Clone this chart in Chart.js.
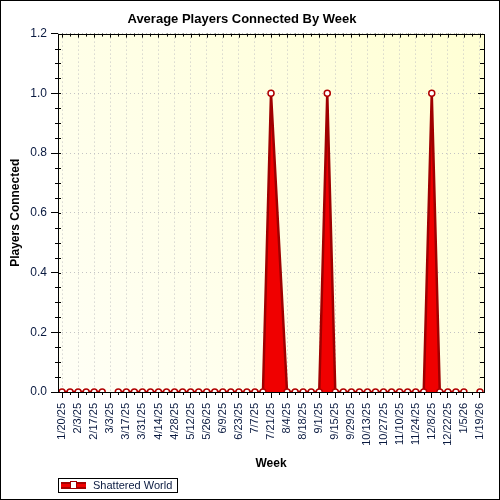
<!DOCTYPE html>
<html>
<head>
<meta charset="utf-8">
<script src="https://cdn.jsdelivr.net/npm/chart.js@4.4.1/dist/chart.umd.min.js"></script>
<style>
    html, body { margin: 0; padding: 0; background: #fff; }
    #wrap { width: 500px; height: 500px; }
</style>
</head>
<body>
<div id="wrap"><canvas id="playersChart" width="500" height="500"></canvas></div>
<script>
// weekly samples, 1/20/25 .. 1/19/26
const weeks = [
    '1/20/25', '1/27/25', '2/3/25', '2/10/25', '2/17/25', '2/24/25', '3/3/25', '3/10/25',
    '3/17/25', '3/24/25', '3/31/25', '4/7/25', '4/14/25', '4/21/25', '4/28/25', '5/5/25',
    '5/12/25', '5/19/25', '5/26/25', '6/2/25', '6/9/25', '6/16/25', '6/23/25', '6/30/25',
    '7/7/25', '7/14/25', '7/21/25', '7/28/25', '8/4/25', '8/11/25', '8/18/25', '8/25/25',
    '9/1/25', '9/8/25', '9/15/25', '9/22/25', '9/29/25', '10/6/25', '10/13/25', '10/20/25',
    '10/27/25', '11/3/25', '11/10/25', '11/17/25', '11/24/25', '12/1/25', '12/8/25', '12/15/25',
    '12/22/25', '12/29/25', '1/5/26', '1/12/26', '1/19/26'
];

// null = no data that week (line is broken there)
const players = [
    0, 0, 0, 0, 0, 0, null, 0,
    0, 0, 0, 0, 0, 0, 0, 0,
    0, 0, 0, 0, 0, 0, 0, 0,
    0, 0, 1.0, null, 0, 0, 0, 0,
    0, 1.0, 0, 0, 0, 0, 0, 0,
    0, 0, 0, 0, 0, 0, 1.0, 0,
    0, 0, 0, null, 0
];

// weeks with no sample at all: the line runs straight past them
const unsampledWeeks = ['7/28/25'];

const seriesName = 'Shattered World';
const yMax = 1.2;
const yStep = 0.2;
const yMinorStep = 0.05;

const FONT = '"Liberation Sans", Arial, sans-serif';
const TEXT = '#0a1a40';

const points = weeks
    .map((w, i) => ({ x: w, y: players[i] }))
    .filter(p => !unsampledWeeks.includes(p.x));

const isMajorWeek = i => i % 2 === 0;

const backdrop = {
    id: 'backdrop',
    beforeDraw(chart) {
        const { ctx, chartArea: a } = chart;
        ctx.save();
        ctx.fillStyle = '#fff';
        ctx.fillRect(0, 0, chart.width, chart.height);
        const g = ctx.createLinearGradient(a.left, a.bottom, a.right, a.top);
        g.addColorStop(0, '#fffff6');
        g.addColorStop(1, '#ffffd4');
        ctx.fillStyle = g;
        ctx.fillRect(a.left, a.top, a.right - a.left, a.bottom - a.top);
        ctx.restore();
    }
};

const frame = {
    id: 'frame',
    afterDraw(chart) {
        const { ctx, chartArea: a, scales } = chart;
        ctx.save();
        ctx.strokeStyle = '#000';
        ctx.lineWidth = 1;

        // minor ticks
        ctx.beginPath();
        weeks.forEach((w, i) => {
            const x = Math.round(scales.x.getPixelForValue(i)) + 0.5;
            if (!isMajorWeek(i)) {
                ctx.moveTo(x, a.bottom);
                ctx.lineTo(x, a.bottom + 3);
            }
            ctx.moveTo(x, a.top);
            ctx.lineTo(x, a.top + (isMajorWeek(i) ? 4 : 3));
        });
        for (let v = 0; v <= yMax + 1e-9; v += yMinorStep) {
            const y = Math.round(scales.y.getPixelForValue(v)) + 0.5;
            const major = Math.round(v * 100) % Math.round(yStep * 100) === 0;
            if (!major) {
                ctx.moveTo(a.left - 3, y);
                ctx.lineTo(a.left + 3, y);
            } else {
                ctx.moveTo(a.left, y);
                ctx.lineTo(a.left + 3, y);
            }
            ctx.moveTo(a.right, y);
            ctx.lineTo(a.right - (major ? 6 : 4), y);
        }
        ctx.stroke();

        // plot frame
        ctx.strokeRect(Math.round(a.left) + 0.5, Math.round(a.top) + 0.5,
            Math.round(a.right - a.left), Math.round(a.bottom - a.top));

        // legend
        const lx = 58, ly = 478;
        ctx.strokeRect(lx + 0.5, ly + 0.5, 119, 14);
        ctx.fillStyle = '#a80000';
        ctx.fillRect(lx + 3, ly + 4, 25, 7);
        ctx.fillStyle = '#f00000';
        ctx.fillRect(lx + 3, ly + 6, 25, 3);
        ctx.fillStyle = '#fff';
        ctx.fillRect(lx + 12, ly + 4, 6, 6);
        ctx.strokeStyle = '#a00000';
        ctx.strokeRect(lx + 12.5, ly + 3.5, 6, 7);
        ctx.fillStyle = TEXT;
        ctx.font = '11px ' + FONT;
        ctx.textBaseline = 'middle';
        ctx.fillText(chart.data.datasets[0].label, lx + 35, ly + 8);

        // outer border
        ctx.strokeStyle = '#000';
        ctx.strokeRect(0.5, 0.5, chart.width - 1, chart.height - 1);
        ctx.restore();
    }
};

const ctx = document.getElementById('playersChart').getContext('2d');

new Chart(ctx, {
    type: 'line',
    data: {
        labels: weeks,
        datasets: [{
            label: seriesName,
            data: points,
            borderColor: '#a00000',
            backgroundColor: '#f00000',
            borderWidth: 2.5,
            fill: 'origin',
            tension: 0,
            spanGaps: false,
            pointStyle: 'circle',
            pointRadius: 3,
            pointBorderWidth: 1.5,
            pointBackgroundColor: '#fff',
            pointBorderColor: '#b00000',
            clip: { left: 6, top: 6, right: 6, bottom: 0 }
        }]
    },
    options: {
        responsive: false,
        animation: false,
        devicePixelRatio: 1,
        layout: { padding: { left: 0, top: 0, right: 16, bottom: 28 } },
        plugins: {
            legend: { display: false },
            tooltip: { enabled: false },
            title: {
                display: true,
                text: 'Average Players Connected By Week',
                color: '#000',
                font: { family: FONT, size: 13, weight: 'bold' },
                padding: { top: 12, bottom: 6 }
            }
        },
        scales: {
            x: {
                type: 'category',
                offset: true,
                afterFit: s => { s.height = 80; },
                title: {
                    display: true,
                    text: 'Week',
                    color: '#000',
                    font: { family: FONT, size: 12, weight: 'bold' },
                    padding: { top: 0, bottom: 1 }
                },
                ticks: {
                    autoSkip: false,
                    minRotation: 90,
                    maxRotation: 90,
                    padding: 5,
                    color: TEXT,
                    font: { family: FONT, size: 11 },
                    callback: function (value, index) {
                        return isMajorWeek(index) ? this.getLabelForValue(value) : '';
                    }
                },
                grid: {
                    offset: false,
                    tickLength: 6,
                    lineWidth: 1,
                    color: c => isMajorWeek(c.index) ? '#c4c4c4' : 'transparent',
                    tickColor: c => isMajorWeek(c.index) ? '#000' : 'transparent'
                },
                border: { display: false, dash: [1, 3] }
            },
            y: {
                min: 0,
                max: yMax,
                afterFit: s => { s.width = 58; },
                title: {
                    display: true,
                    text: 'Players Connected',
                    color: '#000',
                    font: { family: FONT, size: 12, weight: 'bold' },
                    padding: { top: 8, bottom: 0 }
                },
                ticks: {
                    stepSize: yStep,
                    padding: 4,
                    color: TEXT,
                    font: { family: FONT, size: 12 },
                    callback: value => value.toFixed(1)
                },
                grid: {
                    tickLength: 7,
                    color: '#c4c4c4',
                    tickColor: '#000'
                },
                border: { display: false, dash: [1, 3] }
            }
        }
    },
    plugins: [backdrop, frame]
});
</script>
</body>
</html>
